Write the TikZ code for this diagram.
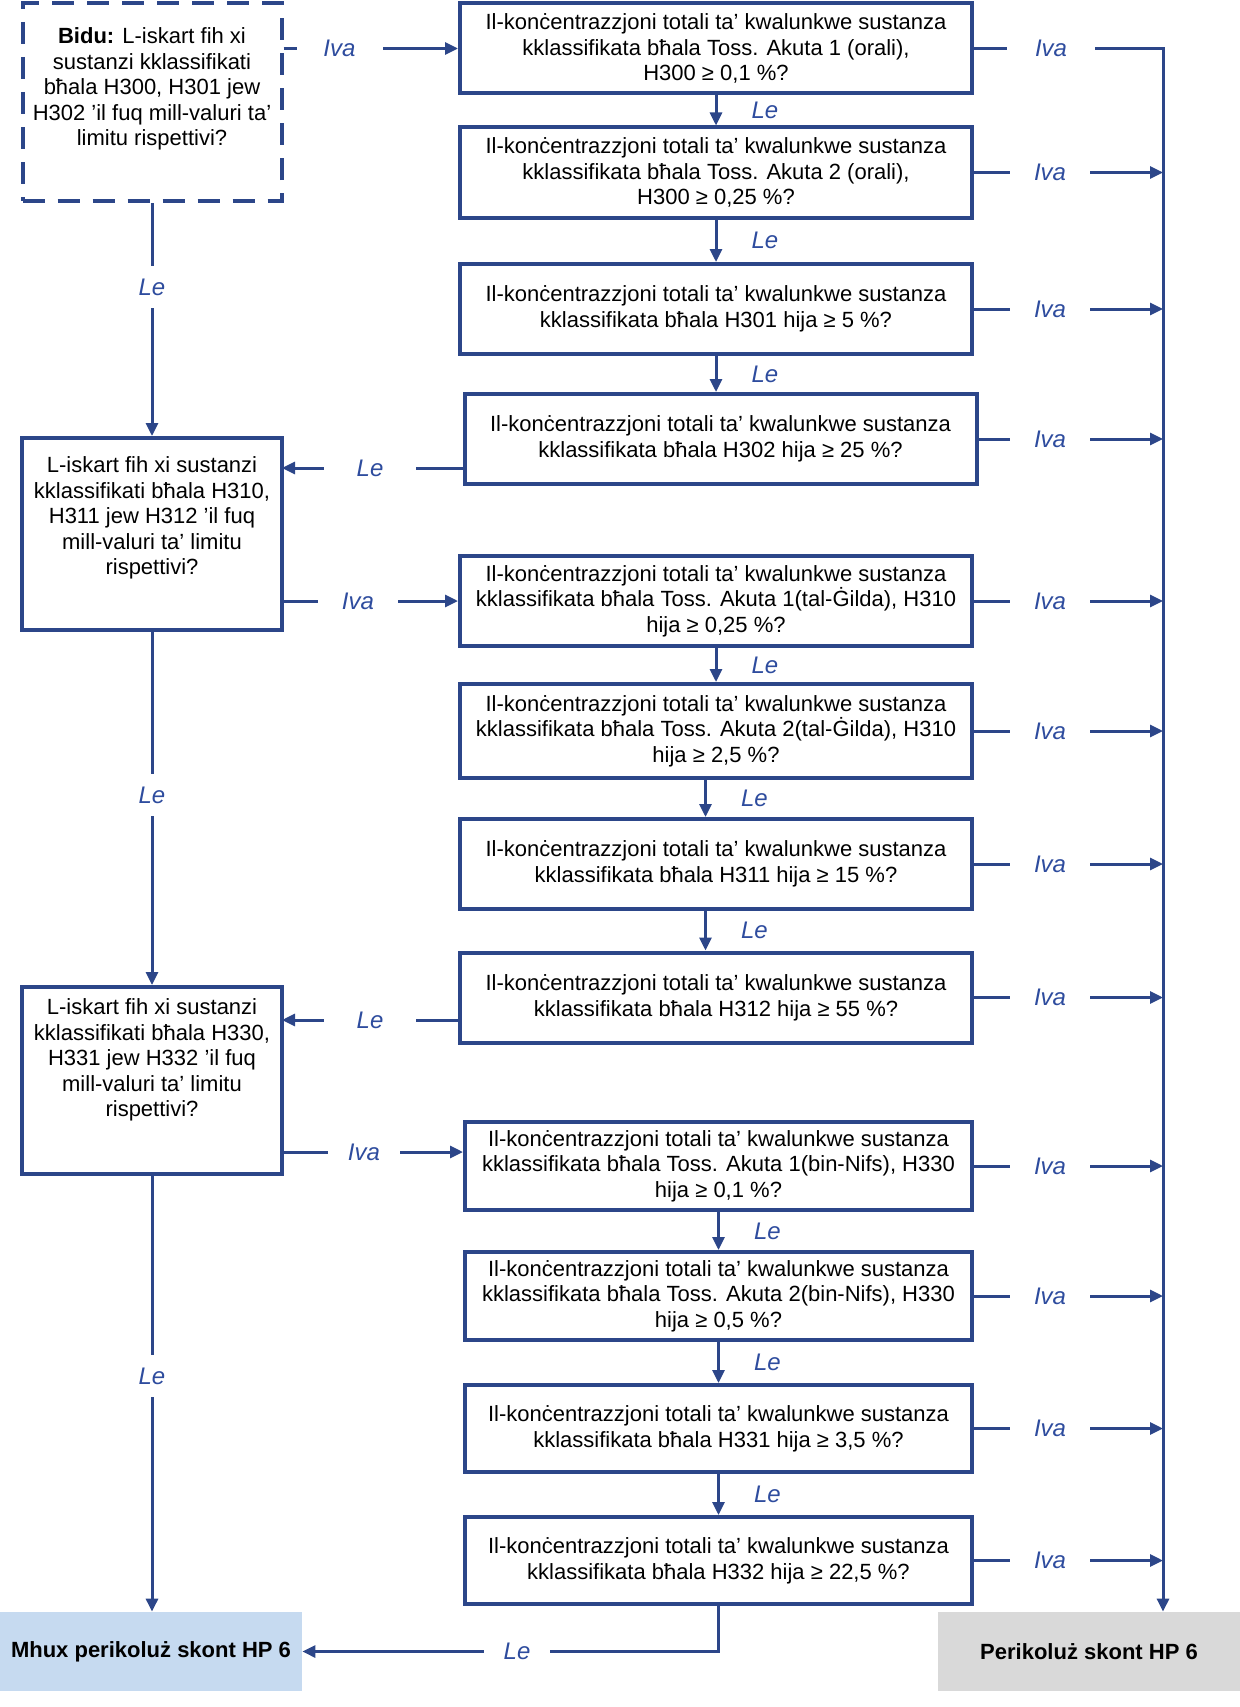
\documentclass[tikz,border=0pt]{standalone}
\usepackage{fontspec}
\setmainfont{Liberation Sans}
\usetikzlibrary{arrows.meta}
\definecolor{navy}{HTML}{2C4689}
\definecolor{lblue}{HTML}{2E4C9E}
\definecolor{endblue}{HTML}{C6DAF0}
\definecolor{endgray}{HTML}{D9D9D9}
\begin{document}
\begin{tikzpicture}[x=0.5pt,y=-0.5pt,
  qbox/.style={draw=navy,line width=2pt,align=center,font=\fontsize{11}{12.8}\selectfont,inner sep=0pt,minimum width=256pt,minimum height=45pt},
  lbox/.style={draw=navy,line width=2pt,inner sep=0pt,minimum width=130pt},
  ltext/.style={align=center,font=\fontsize{11}{12.8}\selectfont,inner sep=0pt},
  endbox/.style={inner sep=0pt,minimum width=151pt,minimum height=39.5pt,font=\bfseries\fontsize{11}{13}\selectfont},
  conn/.style={draw=navy,line width=1.5pt},
  arr/.style={conn,-{Triangle[length=6.5pt,width=6pt]}},
  lab/.style={fill=white,text=lblue,font=\itshape\fontsize{12}{14}\selectfont,inner sep=0pt,minimum width=40pt,minimum height=14pt},
  vlab/.style={fill=white,text=lblue,font=\itshape\fontsize{12}{14}\selectfont,inner sep=0pt,minimum width=16pt,minimum height=21pt},
  dlab/.style={text=lblue,font=\itshape\fontsize{12}{14}\selectfont,inner sep=0pt,anchor=west,xshift=17pt},
]
\useasboundingbox (0,0) rectangle (1240,1707);

% right column
\node[qbox] (b1) at (716,48.5) {Il-konċentrazzjoni totali ta’ kwalunkwe sustanza\\kklassifikata bħala Toss. Akuta 1 (orali),\\H300 ≥ 0,1 \%?};
\node[qbox] (b2) at (716,172.5) {Il-konċentrazzjoni totali ta’ kwalunkwe sustanza\\kklassifikata bħala Toss. Akuta 2 (orali),\\H300 ≥ 0,25 \%?};
\node[qbox] (b3) at (716,309) {Il-konċentrazzjoni totali ta’ kwalunkwe sustanza\\kklassifikata bħala H301 hija ≥ 5 \%?};
\node[qbox] (b4) at (720.5,439) {Il-konċentrazzjoni totali ta’ kwalunkwe sustanza\\kklassifikata bħala H302 hija ≥ 25 \%?};
\node[qbox] (b5) at (716,601) {Il-konċentrazzjoni totali ta’ kwalunkwe sustanza\\kklassifikata bħala Toss. Akuta 1(tal-Ġilda), H310\\hija ≥ 0,25 \%?};
\node[qbox,minimum height=47pt] (b6) at (716,731) {Il-konċentrazzjoni totali ta’ kwalunkwe sustanza\\kklassifikata bħala Toss. Akuta 2(tal-Ġilda), H310\\hija ≥ 2,5 \%?};
\node[qbox] (b7) at (716,864) {Il-konċentrazzjoni totali ta’ kwalunkwe sustanza\\kklassifikata bħala H311 hija ≥ 15 \%?};
\node[qbox] (b8) at (716,997.5) {Il-konċentrazzjoni totali ta’ kwalunkwe sustanza\\kklassifikata bħala H312 hija ≥ 55 \%?};
\node[qbox,minimum width=253.5pt,minimum height=44pt] (b9) at (718.5,1166) {Il-konċentrazzjoni totali ta’ kwalunkwe sustanza\\kklassifikata bħala Toss. Akuta 1(bin-Nifs), H330\\hija ≥ 0,1 \%?};
\node[qbox,minimum width=253.5pt,minimum height=44pt] (b10) at (718.5,1296) {Il-konċentrazzjoni totali ta’ kwalunkwe sustanza\\kklassifikata bħala Toss. Akuta 2(bin-Nifs), H330\\hija ≥ 0,5 \%?};
\node[qbox,minimum width=253.5pt,minimum height=43.5pt] (b11) at (718.5,1428.5) {Il-konċentrazzjoni totali ta’ kwalunkwe sustanza\\kklassifikata bħala H331 hija ≥ 3,5 \%?};
\node[qbox,minimum width=253.5pt,minimum height=43.5pt] (b12) at (718.5,1560.5) {Il-konċentrazzjoni totali ta’ kwalunkwe sustanza\\kklassifikata bħala H332 hija ≥ 22,5 \%?};

% left column
\node[lbox,dash pattern=on 11pt off 6.5pt,minimum width=129.5pt,minimum height=99pt] (start) at (152,102) {};
\node[ltext] (startt) at (152,89) {\textbf{Bidu:} L-iskart fih xi\\sustanzi kklassifikati\\bħala H300, H301 jew\\H302 ’il fuq mill-valuri ta’\\limitu rispettivi?};
\node[lbox,minimum height=96pt] (L2) at (152,534) {};
\node[ltext] (L2t) at (152,518) {L-iskart fih xi sustanzi\\kklassifikati bħala H310,\\H311 jew H312 ’il fuq\\mill-valuri ta’ limitu\\rispettivi?};
\node[lbox,minimum height=93.5pt] (L3) at (152,1080.5) {};
\node[ltext] (L3t) at (152,1060) {L-iskart fih xi sustanzi\\kklassifikati bħala H330,\\H331 jew H332 ’il fuq\\mill-valuri ta’ limitu\\rispettivi?};

% end boxes
\node[endbox,fill=endblue] (mhux) at (151,1651.5) {Mhux perikoluż skont HP 6};
\node[endbox,fill=endgray] (perik) at (1089,1651.5) {Perikoluż skont HP 6};

% helper coordinates
\coordinate (rx) at (1163,0);
\coordinate (lx) at (1050,0);
\coordinate (c2) at (282,468);
\coordinate (c3) at (282,1020);
\coordinate (c4) at (282,1152);

% left vertical connectors
\draw[arr] (start.south) -- (L2.north);
\node[vlab] (le1) at (152,287) {Le};
\draw[arr] (L2.south) -- (L3.north);
\node[vlab] (le2) at (152,795) {Le};
\draw[arr] (L3.south) -- (L3.south |- mhux.north);
\node[vlab] (le3) at (152,1376) {Le};

% horizontal connectors left
\draw[arr] (start.east |- b1.west) -- (b1.west);
\node[lab,minimum width=43pt] (iva0) at (339.5,48.5) {Iva};
\draw[arr] (c2 -| b4.west) -- (c2);
\node[lab,minimum width=46pt] (le4) at (370,468) {Le};
\draw[arr] (L2.east |- b5.west) -- (b5.west);
\node[lab] (iva5) at (358,601) {Iva};
\draw[arr] (c3 -| b8.west) -- (c3);
\node[lab,minimum width=46pt] (le8) at (370,1020) {Le};
\draw[arr] (c4) -- (c4 -| b9.west);
\node[lab,minimum width=36pt] (iva9) at (364,1152) {Iva};

% right vertical Le connectors
\draw[arr] (b1.south) -- (b2.north) node[dlab,midway] (le12) {Le};
\draw[arr] (b2.south) -- (b3.north) node[dlab,midway] (le23) {Le};
\draw[arr] (b3.south) -- (b3.south |- b4.north) node[dlab,midway] (le34) {Le};
\draw[arr] (b5.south) -- (b6.north) node[dlab,midway] (le56) {Le};
\draw[arr] ([xshift=-5.25pt]b6.south) -- ([xshift=-5.25pt]b7.north) node[dlab,midway] (le67) {Le};
\draw[arr] ([xshift=-5.25pt]b7.south) -- ([xshift=-5.25pt]b8.north) node[dlab,midway] (le78) {Le};
\draw[arr] (b9.south) -- (b10.north) node[dlab,midway] (le910) {Le};
\draw[arr] (b10.south) -- (b11.north) node[dlab,midway] (le1011) {Le};
\draw[arr] (b11.south) -- (b12.north) node[dlab,midway] (le1112) {Le};

% bottom Le
\draw[arr] (b12.south) |- (mhux.east);
\node[lab,minimum width=33pt] (lebot) at (517,1651.5) {Le};

% right collector
\draw[arr] (b1.east) -- (b1.east -| rx) -- (perik.north -| rx);
\node[lab,minimum width=44pt] (iva1) at (1051,48.5) {Iva};
\foreach \b in {b2,b3,b4,b5,b6,b7,b8,b9,b10,b11,b12} {
  \draw[arr] (\b.east) -- (\b.east -| rx);
  \node[lab] (iva\b) at (\b.east -| lx) {Iva};
}
\end{tikzpicture}
\end{document}
